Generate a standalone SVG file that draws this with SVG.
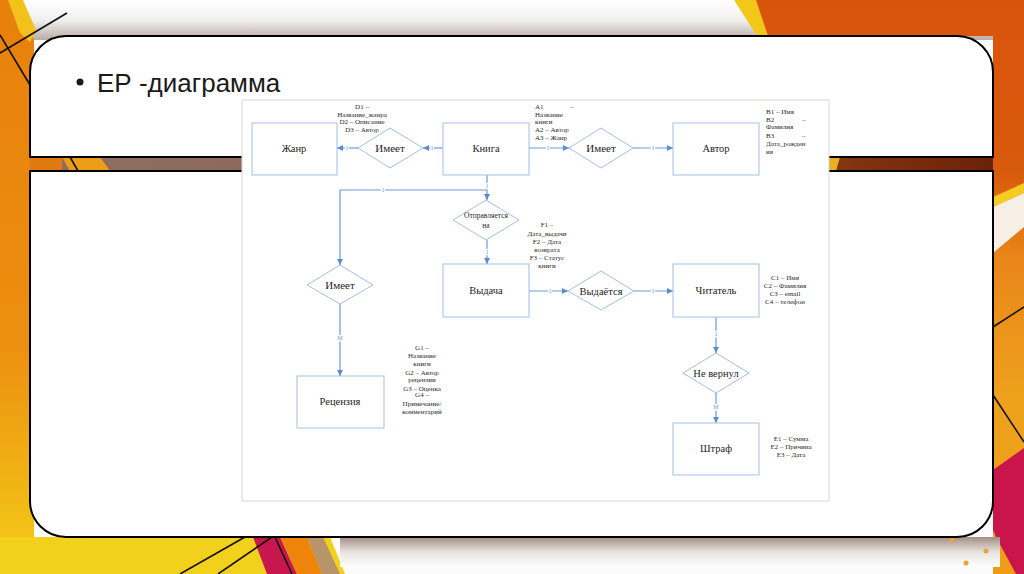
<svg xmlns="http://www.w3.org/2000/svg" width="1024" height="574" viewBox="0 0 1024 574">
<defs>
<style>
.box{fill:#fff;stroke:#a3bfe4;stroke-width:1}
.lbl{font-family:"Liberation Serif","DejaVu Serif",serif;font-size:10.5px;fill:#1e1e1e;text-anchor:middle}
.dl{font-family:"Liberation Serif","DejaVu Serif",serif;font-size:11px;fill:#1e1e1e;text-anchor:middle}
.at{font-family:"Liberation Serif","DejaVu Serif",serif;font-size:7px;fill:#2a2a2a}
.atc{font-family:"Liberation Serif","DejaVu Serif",serif;font-size:7px;fill:#2a2a2a;text-anchor:middle}
.con{fill:none;stroke:#6c99d5;stroke-width:1.2}
.card{font-family:"Liberation Serif","DejaVu Serif",serif;font-size:6px;fill:#6c99d5;text-anchor:middle;stroke:#fff;stroke-width:2.5;paint-order:stroke}
.bl{stroke:#111;stroke-width:1.6;fill:none}
.panel{fill:#fff;stroke:#000;stroke-width:2}
</style>
<marker id="arr" markerWidth="6" markerHeight="6" refX="6" refY="3" orient="auto" markerUnits="userSpaceOnUse">
<path d="M0,0 L6,3 L0,6 Z" fill="#5b8bd0"/>
</marker>
<linearGradient id="gLeft" x1="0" y1="0" x2="0" y2="1">
<stop offset="0" stop-color="#e8800c"/>
<stop offset="0.6" stop-color="#ec8f10"/>
<stop offset="0.85" stop-color="#f1b515"/>
<stop offset="1" stop-color="#f3cf18"/>
</linearGradient>
<linearGradient id="gRight" x1="0" y1="0" x2="0" y2="1">
<stop offset="0" stop-color="#d9540b"/>
<stop offset="0.3" stop-color="#d85a0c"/>
<stop offset="0.45" stop-color="#e9861a"/>
<stop offset="0.7" stop-color="#eea21c"/>
<stop offset="1" stop-color="#ee9c18"/>
</linearGradient>
<linearGradient id="gTop" x1="0" y1="0" x2="0" y2="1">
<stop offset="0" stop-color="#ffffff"/>
<stop offset="0.5" stop-color="#f2f0ef"/>
<stop offset="1" stop-color="#b9aca6"/>
</linearGradient>
<linearGradient id="gBot" x1="0" y1="0" x2="0" y2="1">
<stop offset="0" stop-color="#a28e84"/>
<stop offset="0.5" stop-color="#e8e2de"/>
<stop offset="1" stop-color="#ffffff"/>
</linearGradient>
<linearGradient id="gGap" x1="0" y1="0" x2="1" y2="0">
<stop offset="0" stop-color="#8f6e62"/>
<stop offset="0.5" stop-color="#8a6456"/>
<stop offset="0.8" stop-color="#8a3a12"/>
<stop offset="1" stop-color="#6c2208"/>
</linearGradient>
</defs>

<g id="background">
<rect x="0" y="0" width="1024" height="574" fill="#fbfbfb"/>
<rect x="0" y="0" width="1024" height="40" fill="url(#gTop)"/>
<polygon points="0,0 12,0 34,40 34,574 0,574" fill="url(#gLeft)"/>
<polygon points="8,0 23,0 36,30 30,42 20,33" fill="#f2c21a"/>
<polygon points="752,0 1024,0 1024,574 993,574 993,36 768,36" fill="url(#gRight)"/>
<polygon points="734,0 756,0 768,36 757,36" fill="#f3c718"/>
<polygon points="993,197 1024,183 1024,193 993,207" fill="#f4cc22"/>
<polygon points="993,207 1024,193 1024,227 993,253" fill="#f8efe4"/>
<polygon points="993,470 1024,448 1024,574 1016,574 996,537 993,530" fill="#c9154c"/>
<polygon points="0,537 330,537 345,574 0,574" fill="#f2d11c"/>
<polygon points="253,537 280,537 297,574 267,574" fill="#c8174e"/>
<polygon points="280,537 307,537 322,574 297,574" fill="#ef840b"/>
<polygon points="307,537 323,537 340,574 322,574" fill="#b8946a"/>
<rect x="340" y="537" width="660" height="30" fill="url(#gBot)"/>
<rect x="30" y="157" width="963" height="14" fill="url(#gGap)"/>
<polygon points="30,157 62,157 62,171 30,171" fill="#e07a10"/>
<polygon points="62,157 100,157 110,171 70,171" fill="#ee9d17"/>
<polygon points="829,157 840,157 836,171 829,171" fill="#e8b020"/>
<line class="bl" x1="0" y1="53" x2="67" y2="13"/>
<line class="bl" x1="0" y1="35" x2="30" y2="85"/>
<line class="bl" x1="70" y1="157" x2="78" y2="171"/>
<line class="bl" x1="993" y1="327" x2="1024" y2="307"/>
<line class="bl" x1="993" y1="395" x2="1024" y2="442"/>
<line class="bl" x1="180" y1="574" x2="245" y2="537"/>
<line class="bl" x1="218" y1="574" x2="272" y2="537"/>
<line class="bl" x1="275" y1="537" x2="292" y2="574"/>
<circle cx="952" cy="540" r="2.5" fill="#e8a33a"/>
<circle cx="986" cy="551" r="2.5" fill="#e8a33a"/>
<circle cx="966" cy="563" r="2.5" fill="#e8a33a"/>
</g>

<g id="panels">
<path class="panel" d="M30,157 L30,72 A36,36 0 0 1 66,36 L957,36 A36,36 0 0 1 993,72 L993,157 Z"/>
<path class="panel" d="M30,171 L993,171 L993,501 A36,36 0 0 1 957,537 L66,537 A36,36 0 0 1 30,501 Z"/>
</g>

<g id="title">
<circle cx="80" cy="82" r="3.5" fill="#1a1a1a"/>
<text x="97" y="92" font-family="'Liberation Sans',Arial,sans-serif" font-size="26" fill="#1a1a1a">ЕР -диаграмма</text>
</g>

<rect id="sheet" x="242" y="100" width="587" height="401" fill="#fff" stroke="#d6d6d6" stroke-width="1"/>

<g id="connectors">
<path class="con" d="M443,148 L423,148" marker-end="url(#arr)"/>
<path class="con" d="M358,148 L337,148" marker-end="url(#arr)"/>
<path class="con" d="M529,148 L569,148" marker-end="url(#arr)"/>
<path class="con" d="M633,148 L673,148" marker-end="url(#arr)"/>
<path class="con" d="M487,175 L487,200" marker-end="url(#arr)"/>
<path class="con" d="M487,190 L340,190 L340,265" marker-end="url(#arr)"/>
<path class="con" d="M487,240 L487,264" marker-end="url(#arr)"/>
<path class="con" d="M340,304 L340,376" marker-end="url(#arr)"/>
<path class="con" d="M529,291 L568,291" marker-end="url(#arr)"/>
<path class="con" d="M634,291 L673,291" marker-end="url(#arr)"/>
<path class="con" d="M716,317 L716,353" marker-end="url(#arr)"/>
<path class="con" d="M716,393 L716,423" marker-end="url(#arr)"/>
<text class="card" x="432" y="150">1</text>
<text class="card" x="347" y="150">1</text>
<text class="card" x="548" y="150">1</text>
<text class="card" x="653" y="150">1</text>
<text class="card" x="487" y="188">1</text>
<text class="card" x="383" y="192">1</text>
<text class="card" x="487" y="254">1</text>
<text class="card" x="340" y="340">M</text>
<text class="card" x="550" y="293">1</text>
<text class="card" x="653" y="293">1</text>
<text class="card" x="716" y="336">1</text>
<text class="card" x="716" y="409">M</text>
</g>

<g id="zhanr">
<rect class="box" x="252" y="123" width="85" height="52"/>
<text class="lbl" x="294" y="152">Жанр</text>
</g>
<g id="imeet1">
<polygon class="box" points="358,148 390,128 423,148 390,168"/>
<text class="dl" x="390" y="152">Имеет</text>
</g>
<g id="kniga">
<rect class="box" x="443" y="123" width="86" height="52"/>
<text class="lbl" x="486" y="152">Книга</text>
</g>
<g id="imeet2">
<polygon class="box" points="569,148 601,128 633,148 601,168"/>
<text class="dl" x="601" y="152">Имеет</text>
</g>
<g id="avtor">
<rect class="box" x="673" y="123" width="86" height="52"/>
<text class="lbl" x="716" y="152">Автор</text>
</g>
<g id="otpravlyaetsya">
<polygon class="box" points="453,220 486,200 519,220 486,240"/>
<text class="atc" x="486" y="217.5" style="font-size:7.5px">Отправляется</text>
<text class="atc" x="486" y="227.5" style="font-size:7.5px">на</text>
</g>
<g id="imeet3">
<polygon class="box" points="307,285 340,265 373,285 340,304"/>
<text class="dl" x="340" y="289">Имеет</text>
</g>
<g id="vydacha">
<rect class="box" x="443" y="264" width="86" height="53"/>
<text class="lbl" x="486" y="294">Выдача</text>
</g>
<g id="vydaetsya">
<polygon class="box" points="568,291 601,271 634,291 601,310"/>
<text class="lbl" x="601" y="294.5">Выдаётся</text>
</g>
<g id="chitatel">
<rect class="box" x="673" y="264" width="86" height="53"/>
<text class="lbl" x="716" y="294">Читатель</text>
</g>
<g id="ne_vernul">
<polygon class="box" points="683,373 716,353 749,373 716,393"/>
<text class="lbl" x="716" y="376.5">Не вернул</text>
</g>
<g id="retsenziya">
<rect class="box" x="297" y="376" width="87" height="52"/>
<text class="lbl" x="340" y="405">Рецензия</text>
</g>
<g id="shtraf">
<rect class="box" x="673" y="423" width="86" height="52"/>
<text class="lbl" x="716" y="452">Штраф</text>
</g>

<g id="attributes">
<text class="atc" x="362" y="109">D1 –</text>
<text class="atc" x="362" y="117">Название_жанра</text>
<text class="atc" x="362" y="124">D2 – Описание</text>
<text class="atc" x="362" y="132">D3 – Автор</text>

<text class="at" x="535" y="109">A1</text>
<text class="at" x="570" y="109">–</text>
<text class="at" x="535" y="117">Название</text>
<text class="at" x="535" y="124">книги</text>
<text class="at" x="535" y="132">A2 – Автор</text>
<text class="at" x="535" y="140">A3 – Жанр</text>

<text class="at" x="766" y="114">B1 – Имя</text>
<text class="at" x="766" y="122">B2</text>
<text class="at" x="802" y="122">–</text>
<text class="at" x="766" y="129">Фамилия</text>
<text class="at" x="766" y="138">B3</text>
<text class="at" x="802" y="138">–</text>
<text class="at" x="766" y="146">Дата_рожден</text>
<text class="at" x="766" y="154">ия</text>

<text class="atc" x="547" y="227">F1 –</text>
<text class="atc" x="547" y="236">Дата_выдачи</text>
<text class="atc" x="547" y="244">F2 – Дата</text>
<text class="atc" x="547" y="252">возврата</text>
<text class="atc" x="547" y="260">F3 – Статус</text>
<text class="atc" x="547" y="268">книги</text>

<text class="atc" x="785" y="280">C1 – Имя</text>
<text class="atc" x="785" y="288">C2 – Фамилия</text>
<text class="atc" x="785" y="296">C3 – email</text>
<text class="atc" x="785" y="304">C4 – телефон</text>

<text class="atc" x="422" y="349.5">G1 –</text>
<text class="atc" x="422" y="358">Название</text>
<text class="atc" x="422" y="366">книги</text>
<text class="atc" x="422" y="375">G2 – Автор</text>
<text class="atc" x="422" y="381.5">рецензии</text>
<text class="atc" x="422" y="390.5">G3 – Оценка</text>
<text class="atc" x="422" y="396.5">G4 –</text>
<text class="atc" x="422" y="405.5">Примечание/</text>
<text class="atc" x="422" y="414">комментарий</text>

<text class="atc" x="791" y="441">E1 – Сумма</text>
<text class="atc" x="791" y="449">E2 – Причина</text>
<text class="atc" x="791" y="457">E3 – Дата</text>
</g>
</svg>
